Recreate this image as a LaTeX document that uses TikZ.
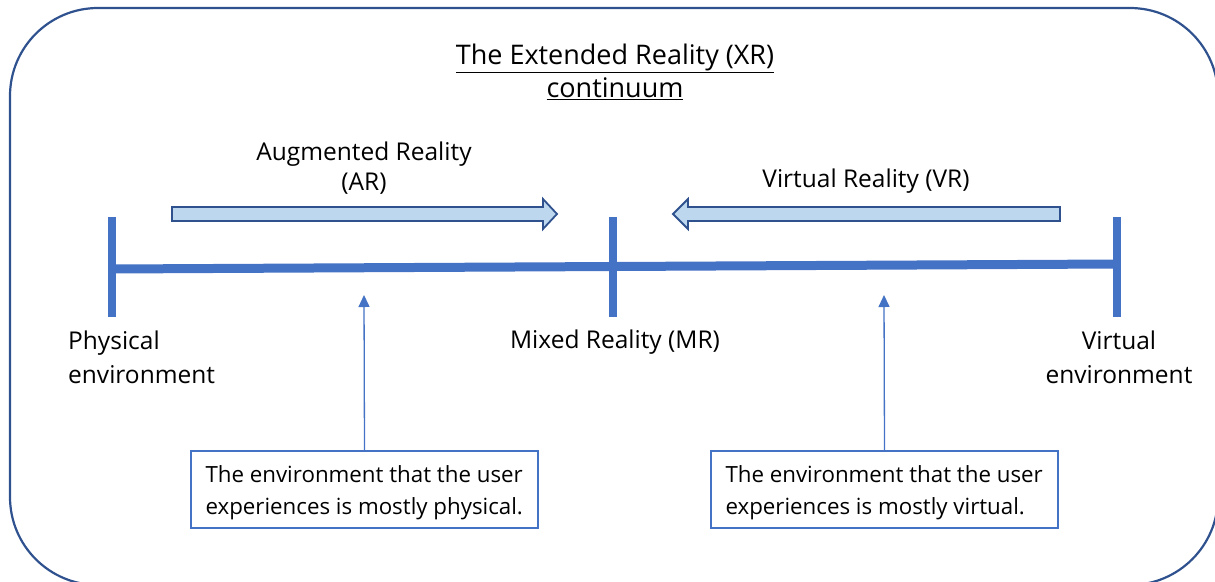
\documentclass[tikz,border=0pt]{standalone}
\usepackage{fontspec}
\setmainfont{Open Sans}
\usetikzlibrary{arrows.meta}
\definecolor{frameblue}{HTML}{2F528F}
\definecolor{axisblue}{HTML}{4472C4}
\definecolor{lightfill}{HTML}{BDD7EE}
\tikzset{
  frame/.style={draw=frameblue, line width=2.2pt, rounded corners=88pt},
  axisline/.style={draw=axisblue, line width=9pt},
  tickline/.style={draw=axisblue, line width=8pt},
  blockarrow/.style={draw=frameblue, fill=lightfill, line width=1.8pt, line join=miter},
  pointer/.style={draw=axisblue, line width=1.3pt, -{Triangle[width=11pt,length=12pt]}},
  infobox/.style={draw=axisblue, line width=1.3pt, minimum width=347pt, minimum height=77pt, inner sep=0pt},
  boxtext/.style={align=left, anchor=west, inner sep=0pt, font=\fontsize{22.3}{32}\selectfont},
  biglabel/.style={font=\fontsize{24.5}{34}\selectfont, inner sep=0pt},
  titlelabel/.style={font=\fontsize{27}{33}\selectfont, inner sep=0pt, align=center},
}
\begin{document}
\begin{tikzpicture}[x=1pt,y=-1pt]
\useasboundingbox (0,0) rectangle (1215,581);
\begin{scope}
\clip (0,0) rectangle (1215,581);
\draw[frame] (10,8) rectangle (1218,585);
\end{scope}

% title
\node[titlelabel] (title) at (615,72) {\underline{The Extended Reality (XR)}\\\underline{continuum}};

% AR / VR labels
\node[biglabel, align=center, font=\fontsize{24.5}{30}\selectfont] (arlabel) at (364,168) {Augmented Reality\\(AR)};
\node[biglabel] (vrlabel) at (866,181) {Virtual Reality (VR)};

% block arrows
\draw[blockarrow] (172,207) -- (543,207) -- (543,199) -- (557,214) -- (543,229) -- (543,221) -- (172,221) -- cycle;
\draw[blockarrow] (1060,207) -- (688,207) -- (688,199) -- (673,214) -- (688,229) -- (688,221) -- (1060,221) -- cycle;

% axis
\coordinate (Ltop) at (112,217);
\coordinate (Lbot) at (112,317);
\coordinate (Lmid) at (112,269);
\coordinate (Mtop) at (613,217);
\coordinate (Mbot) at (613,317);
\coordinate (Rtop) at (1117,217);
\coordinate (Rbot) at (1117,317);
\coordinate (Rmid) at (1117,264);
\draw[axisline] (Lmid) -- (Rmid);
\draw[tickline] (Ltop) -- (Lbot);
\draw[tickline] (Mtop) -- (Mbot);
\draw[tickline] (Rtop) -- (Rbot);

% end labels
\node[biglabel, align=left, anchor=west] (phys) at (68,357) {Physical\\environment};
\node[biglabel] (mixed) at (615,342) {Mixed Reality (MR)};
\node[biglabel, align=center] (virt) at (1119,357) {Virtual\\environment};

% info boxes
\node[infobox] (boxL) at (364.5,489.5) {};
\node[infobox] (boxR) at (884.5,489.5) {};
\node[boxtext] (textL) at ([xshift=15pt,yshift=-3pt]boxL.west) {The environment that the user\\experiences is mostly physical.};
\node[boxtext] (textR) at ([xshift=15pt,yshift=-3pt]boxR.west) {The environment that the user\\experiences is mostly virtual.};
\coordinate (pL) at (364,295);
\coordinate (pR) at (884,295);
\draw[pointer] (boxL.north) -- (pL);
\draw[pointer] (boxR.north) -- (pR);
\end{tikzpicture}
\end{document}
